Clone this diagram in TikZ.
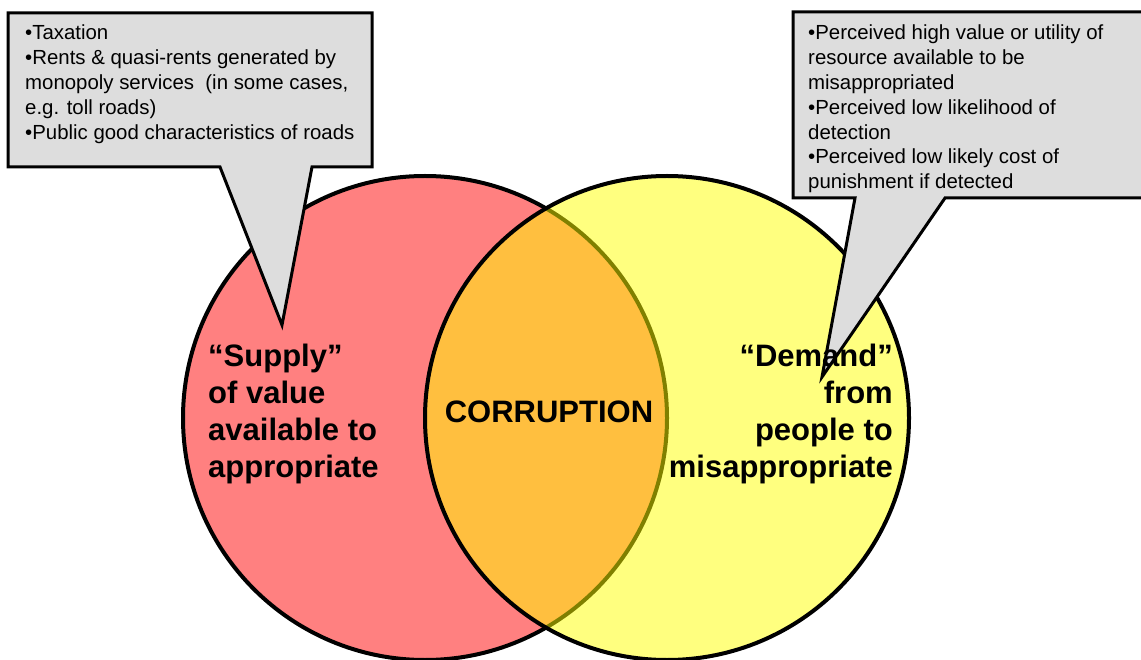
\documentclass[tikz,border=0pt]{standalone}
\usepackage{fontspec}
\setmainfont{Liberation Sans}
\definecolor{supplyred}{RGB}{255,128,128}
\definecolor{demandyellow}{RGB}{255,255,0}
\definecolor{calloutgray}{RGB}{221,221,221}
\begin{document}
\begin{tikzpicture}[x=1pt,y=-1pt,
  callout/.style={draw=black,line width=3pt,fill=calloutgray,line join=miter},
  bullettext/.style={inner sep=0pt,align=left,font=\fontsize{20.4}{24.8}\selectfont},
  bigtext/.style={inner sep=0pt,font=\fontsize{31}{37}\selectfont\bfseries}]
\useasboundingbox (0,0) rectangle (1141,660);
\clip (0,0) rectangle (1141,660);
% circles
\node[circle,minimum size=484pt,inner sep=0pt,fill=supplyred,draw=black,line width=4pt] (supply) at (425,418) {};
\node[circle,minimum size=484pt,inner sep=0pt,fill=demandyellow,fill opacity=0.5,draw=black,draw opacity=1,line width=4pt] (demand) at (667,418) {};
% texts in circles
\node[bigtext,anchor=base] (corr) at (549,422) {CORRUPTION};
\node[bigtext,anchor=north west,align=left] (supplytext) at (208,344) {“Supply”\\of value\\available to\\appropriate};
% callouts
\draw[callout] (8,13) -- (372,13) -- (372,167) -- (312,167) -- (282,325) -- (220,167) -- (8,167) -- cycle;
\draw[callout] (793,12) -- (1160,12) -- (1160,198) -- (945,198) -- (822,377) -- (855,198) -- (793,198) -- cycle;
\node[bigtext,anchor=north east,align=right] (demandtext) at (893,344) {“Demand”\\from\\people to\\misappropriate};
\node[bullettext,anchor=north west] (lefttext) at (25,25) {•Taxation\\•Rents \& quasi-rents generated by\\monopoly services\ \ (in some cases,\\e.g. toll roads)\\•Public good characteristics of roads};
\node[bullettext,anchor=north west] (righttext) at (808,25) {•Perceived high value or utility of\\resource available to be\\misappropriated\\•Perceived low likelihood of\\detection\\•Perceived low likely cost of\\punishment if detected};
\end{tikzpicture}
\end{document}
